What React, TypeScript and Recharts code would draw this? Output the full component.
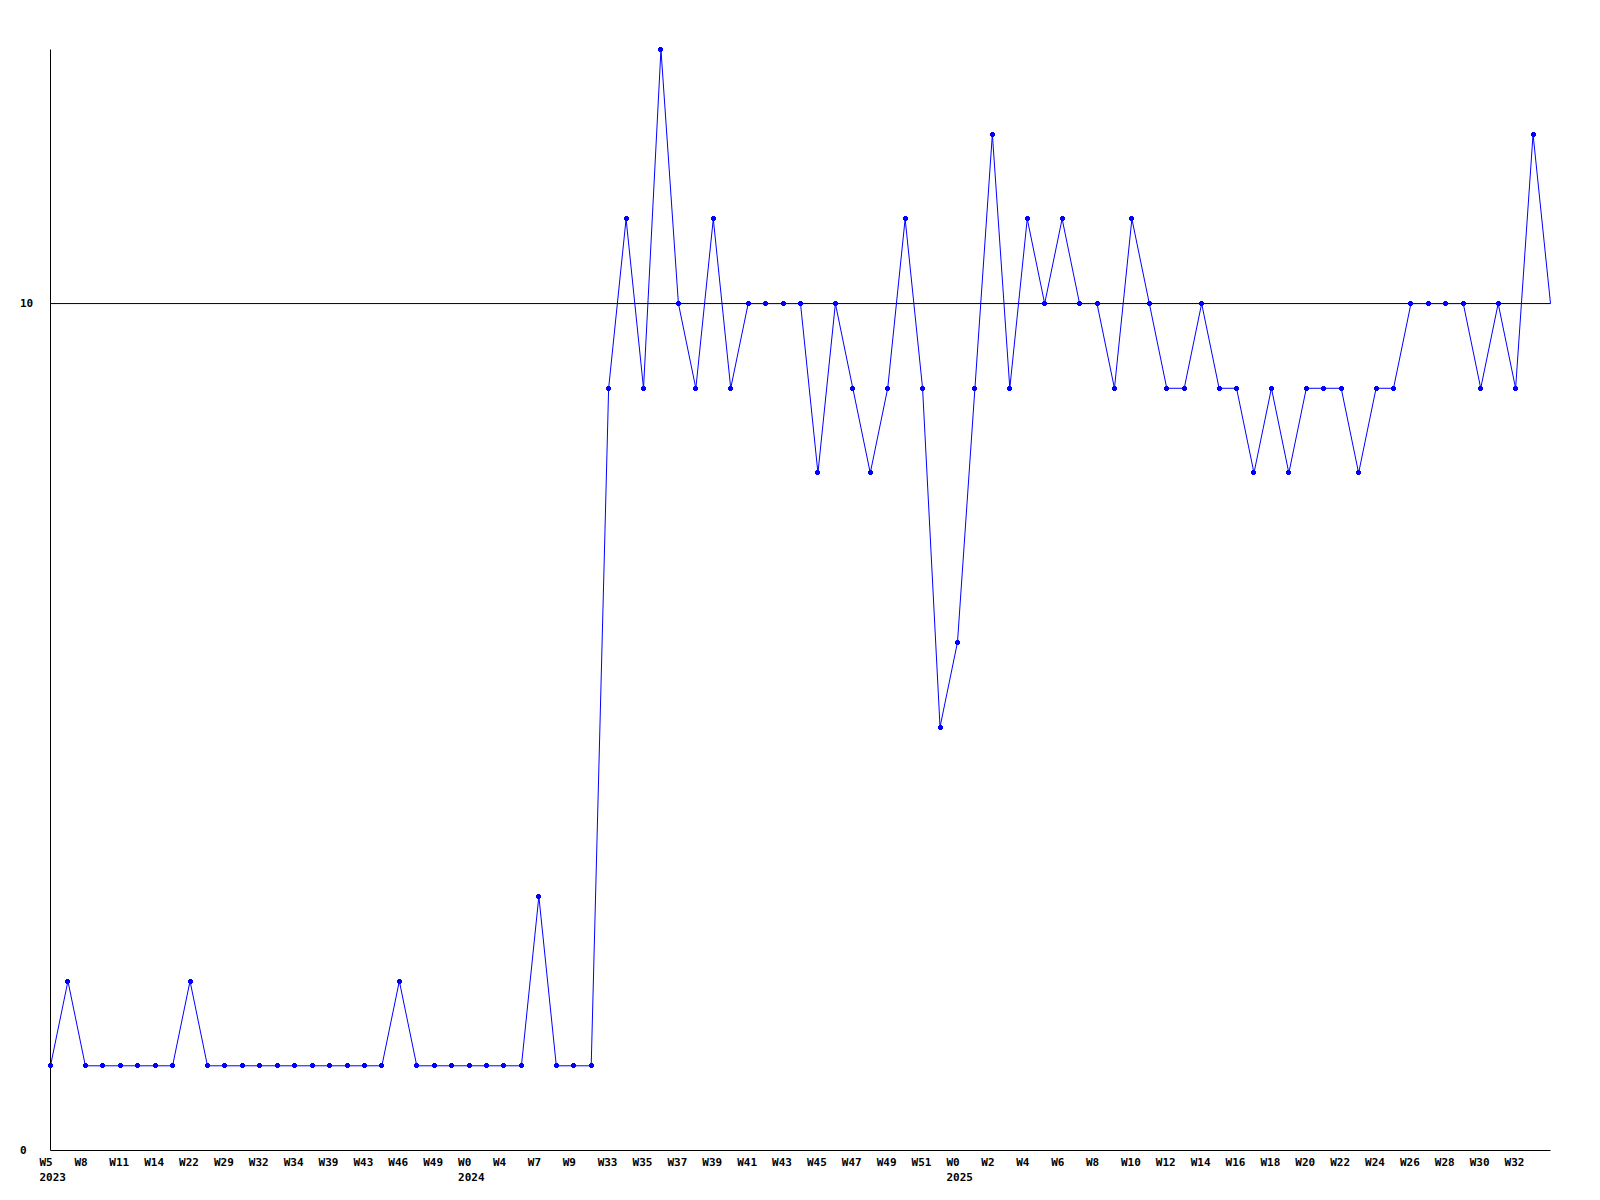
import React from 'react';
import { LineChart, Line, XAxis, YAxis, ReferenceLine } from 'recharts';

// Series values, one per observation (87 points)
const values: number[] = [
  1, 2, 1, 1, 1, 1, 1, 1, 2, 1,
  1, 1, 1, 1, 1, 1, 1, 1, 1, 1,
  2, 1, 1, 1, 1, 1, 1, 1, 3, 1,
  1, 1, 9, 11, 9, 13, 10, 9, 11, 9,
  10, 10, 10, 10, 8, 10, 9, 8, 9, 11,
  9, 5, 6, 9, 12, 9, 11, 10, 11, 10,
  10, 9, 11, 10, 9, 9, 10, 9, 9, 8,
  9, 8, 9, 9, 9, 8, 9, 9, 10, 10,
  10, 10, 9, 10, 9, 12, 10,
];

// Tick labels, shown on every second observation
const weekLabels: string[] = [
  'W5', 'W8', 'W11', 'W14', 'W22', 'W29', 'W32', 'W34', 'W39', 'W43',
  'W46', 'W49', 'W0', 'W4', 'W7', 'W9', 'W33', 'W35', 'W37', 'W39',
  'W41', 'W43', 'W45', 'W47', 'W49', 'W51', 'W0', 'W2', 'W4', 'W6',
  'W8', 'W10', 'W12', 'W14', 'W16', 'W18', 'W20', 'W22', 'W24', 'W26',
  'W28', 'W30', 'W32',
];

// Year labels under the first tick of each year (by tick label position)
const yearLabels: { [tick: number]: string } = { 0: '2023', 12: '2024', 26: '2025' };

const yTicks = [0, 10];

const data = values.map((v, i) => ({ idx: i, value: v }));
const xTicks = weekLabels.map((_, k) => k * 2);

const FONT = '"DejaVu Sans Mono", monospace';

const XTick = (props: any) => {
  const { x, y, payload } = props;
  const k = Math.round(payload.value / 2);
  const label = weekLabels[k];
  const year = yearLabels[k];
  return (
    <g>
      <text x={x - 11} y={y + 15.5} textAnchor="start" fontFamily={FONT} fontWeight="bold" fontSize={11} fill="#000">
        {label}
      </text>
      {year ? (
        <text x={x - 11} y={y + 30.5} textAnchor="start" fontFamily={FONT} fontWeight="bold" fontSize={11} fill="#000">
          {year}
        </text>
      ) : null}
    </g>
  );
};

const YTick = (props: any) => {
  const { x, y, payload } = props;
  return (
    <text x={x - 30.5} y={y + 3.5} textAnchor="start" fontFamily={FONT} fontWeight="bold" fontSize={11} fill="#000">
      {payload.value}
    </text>
  );
};

const Dot = (props: any) => {
  const { cx, cy, index } = props;
  if (index === values.length - 1 || cx == null || cy == null) return <g key={index} />;
  const px = Math.round(cx - 0.5) + 0.5;
  const py = Math.round(cy - 0.5) + 0.5;
  return (
    <g key={index}>
      <rect x={px - 1.5} y={py - 2.5} width={3} height={5} fill="#0000ff" />
      <rect x={px - 2.5} y={py - 1.5} width={5} height={3} fill="#0000ff" />
    </g>
  );
};

export default function App() {
  return (
    <div style={{ position: 'absolute', left: 0, top: 0, background: '#fff' }}>
      <LineChart
        width={1600}
        height={1200}
        data={data}
        margin={{ top: 49.5, right: 49.5, bottom: 0, left: 0.5 }}
      >
        <XAxis
          dataKey="idx"
          type="number"
          domain={[0, values.length - 1]}
          ticks={xTicks}
          interval={0}
          tick={<XTick />}
          tickLine={false}
          tickSize={0}
          tickMargin={0}
          height={49.5}
          axisLine={{ stroke: '#000', strokeWidth: 1 }}
          allowDecimals={false}
        />
        <YAxis
          type="number"
          domain={[0, 13]}
          ticks={yTicks}
          tick={<YTick />}
          tickLine={false}
          tickSize={0}
          tickMargin={0}
          width={50}
          axisLine={{ stroke: '#000', strokeWidth: 1 }}
        />
        <ReferenceLine y={10} stroke="#000" strokeWidth={1} ifOverflow="extendDomain" />
        <Line
          type="linear"
          dataKey="value"
          stroke="#0000ff"
          strokeWidth={1}
          dot={<Dot />}
          activeDot={false}
          isAnimationActive={false}
        />
      </LineChart>
    </div>
  );
}
